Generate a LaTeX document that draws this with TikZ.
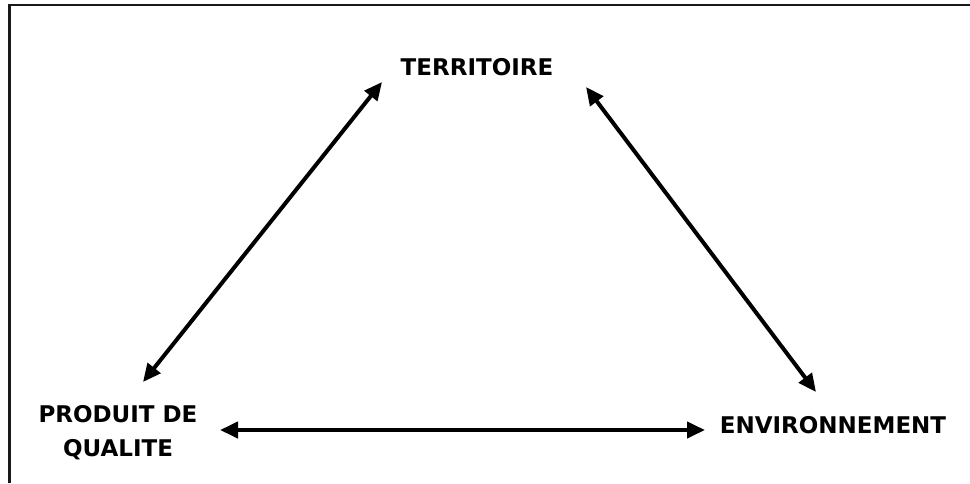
\documentclass[tikz,border=0pt]{standalone}
\usepackage{fontspec}
\setmainfont{DejaVu Sans}
\usetikzlibrary{arrows.meta}
\begin{document}
\begin{tikzpicture}[x=1pt,y=-1pt,
  lbl/.style={font=\bfseries\fontsize{23}{34}\selectfont, inner sep=0pt, align=center},
  link/.style={line width=4pt, {Triangle[length=18pt,width=16pt]}-{Triangle[length=18pt,width=16pt]}},
  frame/.style={line width=2.5pt, black!90}]
\useasboundingbox (0,0) rectangle (970,483);
\draw[frame] (9.5,483) -- (9.5,5) -- (970,5);
\node[lbl] (terr) at (477,67) {TERRITOIRE};
\node[lbl] (prod) at (118,433) {PRODUIT DE\\QUALITE};
\node[lbl] (env) at (833,425) {ENVIRONNEMENT};
\coordinate (tL) at (382,82);
\coordinate (tR) at (586,87);
\coordinate (pT) at (143,382);
\coordinate (pR) at (220,430);
\coordinate (eL) at (705,430);
\coordinate (eT) at (816,392);
\draw[link] (pT) -- (tL);
\draw[link] (tR) -- (eT);
\draw[link] (pR) -- (eL);
\end{tikzpicture}
\end{document}
